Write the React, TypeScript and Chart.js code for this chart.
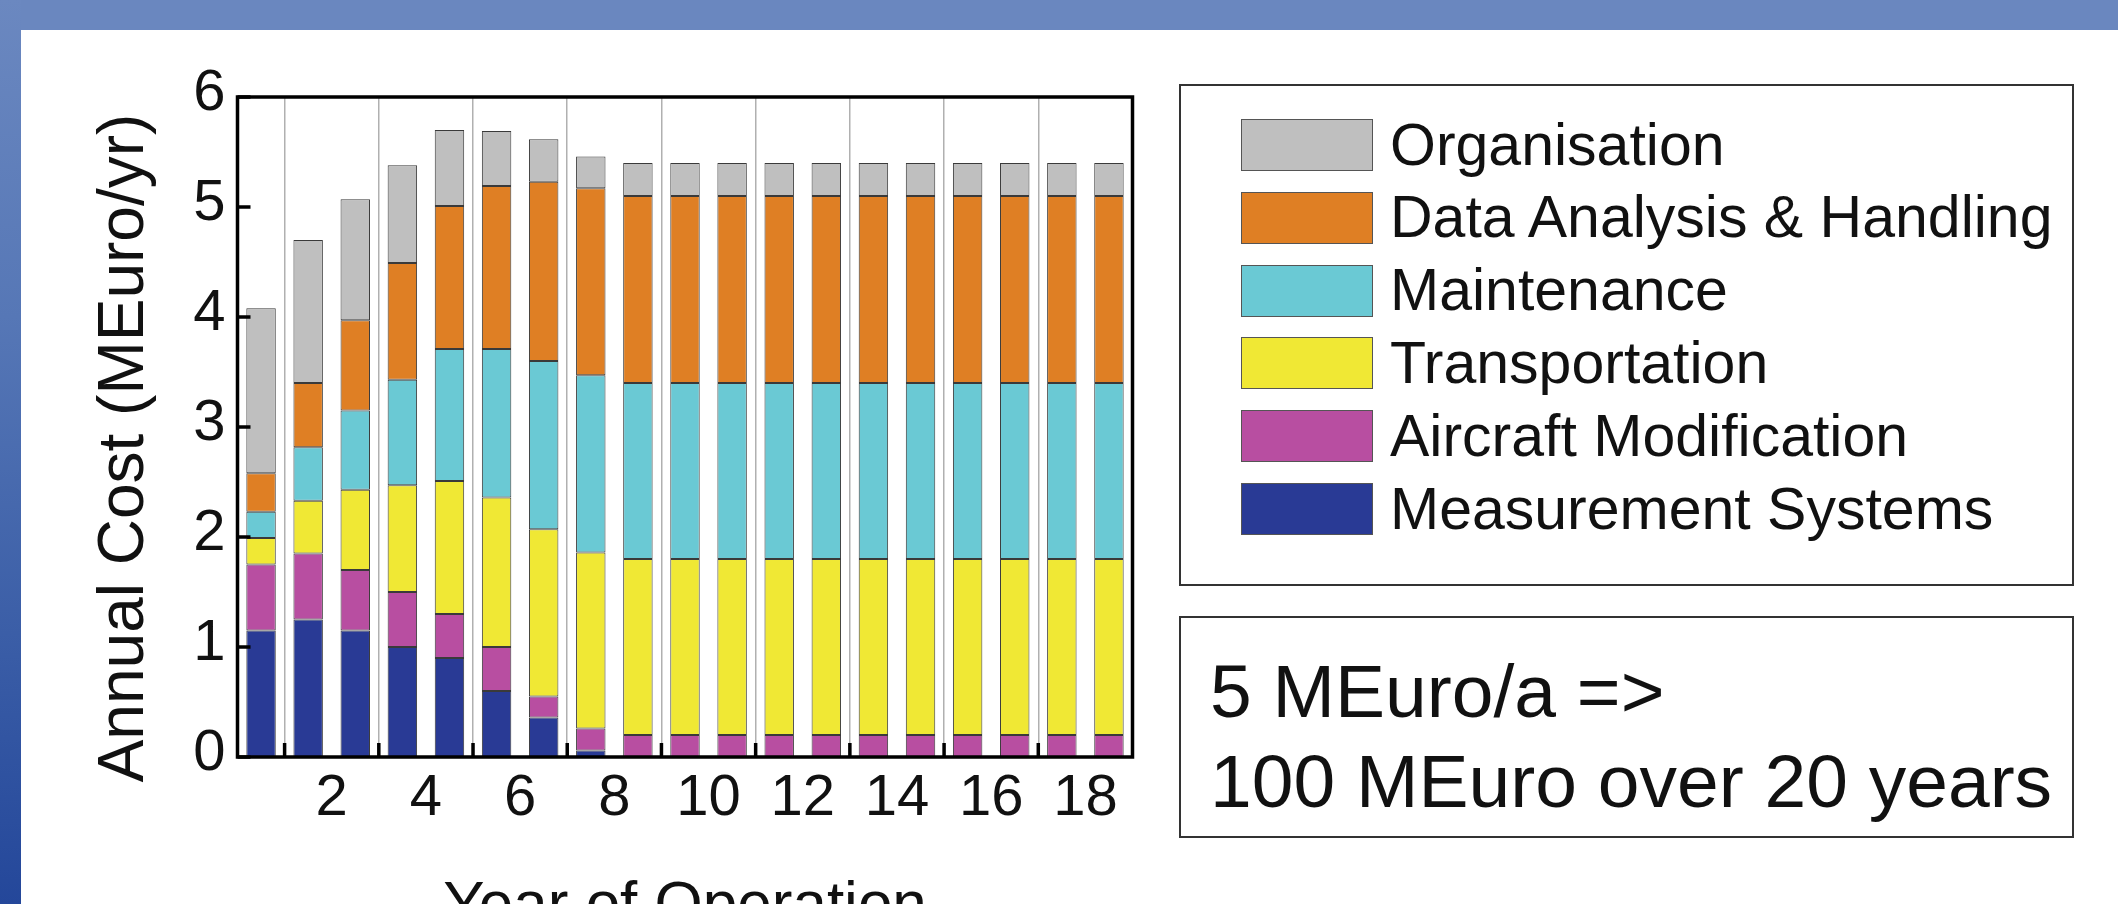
import React, { useEffect, useRef } from "react";
import { Chart, registerables } from "chart.js";

Chart.register(...registerables);

// ---- data ----
const years = [1, 2, 3, 4, 5, 6, 7, 8, 9, 10, 11, 12, 13, 14, 15, 16, 17, 18, 19];
const measurementSystems = [1.15, 1.25, 1.15, 1.0, 0.9, 0.6, 0.36, 0.06, 0, 0, 0, 0, 0, 0, 0, 0, 0, 0, 0];
const aircraftModification = [0.6, 0.6, 0.55, 0.5, 0.4, 0.4, 0.19, 0.2, 0.2, 0.2, 0.2, 0.2, 0.2, 0.2, 0.2, 0.2, 0.2, 0.2, 0.2];
const transportation = [0.24, 0.48, 0.73, 0.97, 1.21, 1.36, 1.52, 1.6, 1.6, 1.6, 1.6, 1.6, 1.6, 1.6, 1.6, 1.6, 1.6, 1.6, 1.6];
const maintenance = [0.24, 0.485, 0.72, 0.96, 1.2, 1.35, 1.53, 1.61, 1.6, 1.6, 1.6, 1.6, 1.6, 1.6, 1.6, 1.6, 1.6, 1.6, 1.6];
const dataAnalysis = [0.35, 0.585, 0.82, 1.06, 1.3, 1.48, 1.63, 1.7, 1.7, 1.7, 1.7, 1.7, 1.7, 1.7, 1.7, 1.7, 1.7, 1.7, 1.7];
const organisation = [1.5, 1.3, 1.1, 0.89, 0.69, 0.5, 0.385, 0.29, 0.3, 0.3, 0.3, 0.3, 0.3, 0.3, 0.3, 0.3, 0.3, 0.3, 0.3];

const seriesNames = [
  "Measurement Systems",
  "Aircraft Modification",
  "Transportation",
  "Maintenance",
  "Data Analysis & Handling",
  "Organisation",
];
const seriesValues = [measurementSystems, aircraftModification, transportation, maintenance, dataAnalysis, organisation];
const seriesColors = ["#293a95", "#b84ea1", "#f0e834", "#6ac9d4", "#df7f24", "#bfbfbf"];

const xLabelYears = [2, 4, 6, 8, 10, 12, 14, 16, 18];
const xMarkYears = [1, 3, 5, 7, 9, 11, 13, 15, 17];
const yTicks = [0, 1, 2, 3, 4, 5, 6];
const yTitle = "Annual Cost (MEuro/yr)";
const xTitle = "Year of Operation";
const noteLines = ["5 MEuro/a =>", "100 MEuro over 20 years"];

const FONT = '"Liberation Sans", Arial, Helvetica, sans-serif';

const framePlugin = {
  id: "frame",
  afterDatasetsDraw(chart: any) {
    const { ctx, chartArea: a, scales } = chart;
    const y = scales.y;
    const x2 = scales.x2;
    ctx.save();
    ctx.strokeStyle = "#000";
    ctx.lineWidth = 3.5;
    ctx.beginPath();
    yTicks.forEach((v) => {
      const py = y.getPixelForValue(v);
      ctx.moveTo(a.left, py);
      ctx.lineTo(a.left + 13, py);
    });
    xMarkYears.forEach((v) => {
      const px = x2.getPixelForValue(v);
      ctx.moveTo(px, a.bottom);
      ctx.lineTo(px, a.bottom - 14);
    });
    ctx.stroke();
    ctx.strokeRect(a.left, a.top, a.right - a.left, a.bottom - a.top);
    // rotated y-axis title
    ctx.font = `64px ${FONT}`;
    ctx.fillStyle = "#111";
    ctx.textAlign = "center";
    ctx.textBaseline = "middle";
    ctx.translate(a.left - 112, (a.top + a.bottom) / 2 + 21);
    ctx.rotate(-Math.PI / 2);
    ctx.fillText(yTitle, 0, 0);
    ctx.restore();
  },
};

function CostChart() {
  const ref = useRef<HTMLCanvasElement | null>(null);
  useEffect(() => {
    if (!ref.current) return;
    const chart = new Chart(ref.current, {
      type: "bar",
      data: {
        labels: years.map(String),
        datasets: seriesValues.map((vals, i) => ({
          label: seriesNames[i],
          data: vals,
          backgroundColor: seriesColors[i],
          borderColor: "#3a3a3a",
          borderWidth: 1,
          borderSkipped: false,
          categoryPercentage: 1,
          barPercentage: 0.625,
          xAxisID: "x",
          yAxisID: "y",
        })),
      },
      options: {
        responsive: false,
        animation: false,
        devicePixelRatio: 1,
        font: { family: FONT },
        layout: { padding: { left: 21, top: 97, right: 985.5, bottom: 0 } },
        plugins: { legend: { display: false }, tooltip: { enabled: false } },
        scales: {
          x: {
            type: "category",
            stacked: true,
            display: false,
            offset: true,
            ticks: { display: false },
            afterFit: (s: any) => {
              s.height = 0;
            },
          },
          x2: {
            type: "linear",
            position: "bottom",
            min: 0,
            max: 19,
            offset: false,
            afterFit: (s: any) => {
              s.height = 193;
            },
            border: { display: false },
            grid: {
              offset: false,
              drawTicks: false,
              lineWidth: 1.5,
              color: (c: any) =>
                c.tick && xMarkYears.includes(c.tick.value) ? "#b0b0b0" : "rgba(0,0,0,0)",
            },
            ticks: {
              stepSize: 1,
              autoSkip: false,
              maxRotation: 0,
              minRotation: 0,
              padding: 7,
              color: "#111",
              font: { size: 58, family: FONT },
              callback: (v: any) => (xLabelYears.includes(Number(v)) ? String(v) : ""),
            },
            title: {
              display: true,
              text: xTitle,
              color: "#111",
              font: { size: 62, family: FONT },
              padding: { top: 0, bottom: 5.6 },
            },
          },
          y: {
            stacked: true,
            min: 0,
            max: 6,
            afterFit: (s: any) => {
              s.width = 216.5;
            },
            border: { display: false },
            grid: { display: false, drawTicks: false },
            ticks: {
              stepSize: 1,
              padding: 12,
              labelOffset: -3,
              color: "#111",
              font: { size: 58, family: FONT },
            },
          },
        },
      },
      plugins: [framePlugin],
    } as any);
    return () => chart.destroy();
  }, []);
  return (
    <canvas
      ref={ref}
      width={2118}
      height={950}
      style={{ position: "absolute", left: 0, top: 0, width: 2118, height: 950 }}
    />
  );
}

export default function App() {
  const legendOrder = seriesNames.map((n, i) => i).reverse();
  return (
    <div
      style={{
        position: "fixed",
        left: 0,
        top: 0,
        width: 2118,
        height: 904,
        overflow: "hidden",
        background: "#ffffff",
        fontFamily: FONT,
        color: "#111",
      }}
    >
      <div style={{ position: "absolute", left: 0, top: 0, width: 2118, height: 30, background: "#6a87bf" }} />
      <div
        style={{
          position: "absolute",
          left: 0,
          top: 0,
          width: 21,
          height: 904,
          background: "linear-gradient(to bottom, #6b88c0 0%, #5677b6 35%, #3b5ea7 70%, #24479a 100%)",
        }}
      />
      <CostChart />
      <div
        style={{
          position: "absolute",
          left: 1179,
          top: 84,
          width: 895,
          height: 502,
          border: "2px solid #333",
          boxSizing: "border-box",
        }}
      />
      {legendOrder.map((si, row) => (
        <div
          key={si}
          style={{
            position: "absolute",
            left: 1241,
            top: 119 + row * 72.8,
            height: 52,
            display: "flex",
            alignItems: "center",
            whiteSpace: "nowrap",
          }}
        >
          <div
            style={{
              width: 132,
              height: 52,
              boxSizing: "border-box",
              background: seriesColors[si],
              border: "1.5px solid #555",
            }}
          />
          <div style={{ marginLeft: 17, fontSize: 59, lineHeight: "59px" }}>{seriesNames[si]}</div>
        </div>
      ))}
      <div
        style={{
          position: "absolute",
          left: 1179,
          top: 616,
          width: 895,
          height: 222,
          border: "2px solid #333",
          boxSizing: "border-box",
          paddingLeft: 29,
          paddingTop: 29.4,
          fontSize: 75,
          lineHeight: "89.5px",
          whiteSpace: "nowrap",
        }}
      >
        {noteLines.map((t) => (
          <div key={t}>{t}</div>
        ))}
      </div>
    </div>
  );
}
